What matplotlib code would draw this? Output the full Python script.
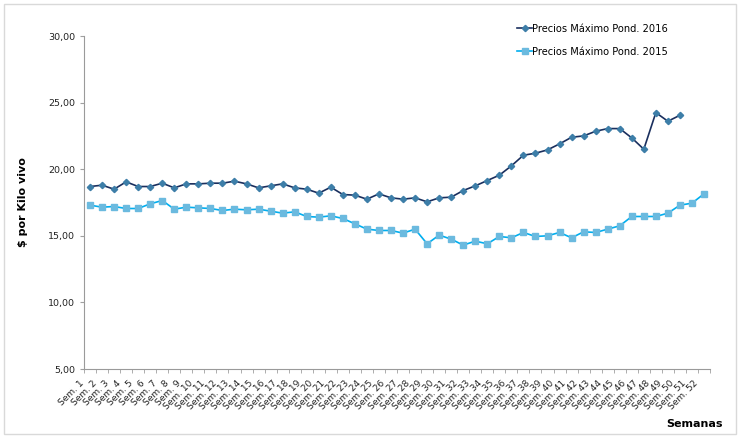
import numpy as np
import matplotlib.pyplot as plt
import matplotlib.transforms as mtransforms

# semanas 1..52
semanas = ["Sem. %d" % i for i in range(1, 53)]

precios_2016 = [18.70, 18.80, 18.50, 19.05, 18.70, 18.70, 18.95, 18.60, 18.90, 18.90,
                18.95, 18.95, 19.10, 18.90, 18.60, 18.75, 18.90, 18.60, 18.50, 18.20,
                18.65, 18.10, 18.05, 17.75, 18.15, 17.85, 17.75, 17.85, 17.55, 17.85,
                17.90, 18.40, 18.75, 19.15, 19.55, 20.25, 21.05, 21.20, 21.45, 21.90,
                22.40, 22.50, 22.85, 23.05, 23.05, 22.35, 21.50, 24.25, 23.60, 24.05]

precios_2015 = [17.30, 17.15, 17.20, 17.05, 17.05, 17.40, 17.65, 17.00, 17.15, 17.10,
                17.05, 16.90, 17.00, 16.95, 17.00, 16.85, 16.70, 16.80, 16.45, 16.40,
                16.50, 16.30, 15.90, 15.50, 15.40, 15.40, 15.20, 15.50, 14.40, 15.05,
                14.75, 14.30, 14.60, 14.40, 14.95, 14.85, 15.25, 14.95, 15.00, 15.25,
                14.85, 15.30, 15.25, 15.50, 15.75, 16.45, 16.45, 16.45, 16.70, 17.30,
                17.45, 18.15]

fig = plt.figure(figsize=(7.4, 4.37), dpi=100)
ax = fig.add_axes([0.1135, 0.1556, 0.8460, 0.7620])

x16 = np.arange(len(precios_2016))
x15 = np.arange(len(precios_2015))

ax.plot(x16, precios_2016, color="#1a2f5e", lw=1.2, marker="D", ms=3.2,
        mfc="#3d7ea8", mec="#3d7ea8", label="Precios Máximo Pond. 2016", zorder=3)
ax.plot(x15, precios_2015, color="#00aeef", lw=1.2, marker="s", ms=4.0,
        mfc="#6bbadf", mec="#6bbadf", label="Precios Máximo Pond. 2015", zorder=2)

ax.set_xlim(-0.5, 51.5)
ax.set_ylim(5, 30)
ax.set_yticks(np.arange(5, 31, 5))
ax.yaxis.set_major_formatter(plt.FuncFormatter(lambda v, p: ("%.2f" % v).replace(".", ",")))

ax.set_xticks(np.arange(len(semanas)))
ax.set_xticklabels(semanas, rotation=45, ha="right", va="center",
                   rotation_mode="anchor", fontsize=6.5, color="#222222")
ax.set_xticks(np.arange(-0.5, 52, 1), minor=True)
ax.tick_params(axis="x", which="major", length=0, pad=9)
ax.tick_params(axis="x", which="minor", length=3, color="#a0a0a0")
ax.tick_params(axis="y", length=3, color="#a0a0a0", labelsize=6.8, labelcolor="#222222")

# shift labels a bit left like Excel
offset = mtransforms.ScaledTranslation(-5 / 72, 0, fig.dpi_scale_trans)
for lbl in ax.get_xticklabels():
    lbl.set_transform(lbl.get_transform() + offset)

for side in ["top", "right"]:
    ax.spines[side].set_visible(False)
for side in ["left", "bottom"]:
    ax.spines[side].set_color("#9a9a9a")
    ax.spines[side].set_linewidth(0.8)

ax.set_ylabel("$ por Kilo vivo", fontsize=8, fontweight="bold", labelpad=14)
fig.text(0.977, 0.018, "Semanas", fontsize=8, fontweight="bold", ha="right", va="bottom")

leg = ax.legend(loc="upper left", bbox_to_anchor=(0.678, 1.063), frameon=False,
                fontsize=7.1, handlelength=1.5, handletextpad=0.0, labelspacing=1.3)

# light frame round the chart area
frame = plt.Rectangle((0.006, 0.006), 0.988, 0.985, transform=fig.transFigure,
                      fill=False, edgecolor="#d9d9d9", lw=1.0)
fig.patches.append(frame)

fig.savefig("out.png", dpi=100)
